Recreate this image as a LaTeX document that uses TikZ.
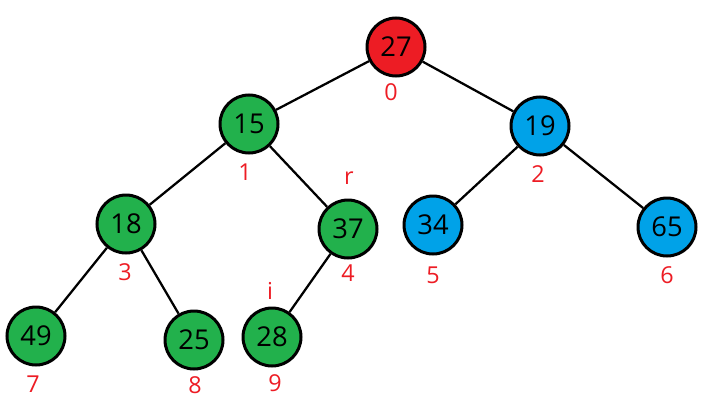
\documentclass[tikz,border=0pt]{standalone}
\usepackage{fontspec}
\setmainfont{Open Sans}
\definecolor{nred}{HTML}{ED1C24}
\definecolor{ngreen}{HTML}{22B14C}
\definecolor{nblue}{HTML}{00A2E8}
\definecolor{lred}{HTML}{ED1C24}
\begin{document}
\begin{tikzpicture}[x=0.75pt,y=-0.75pt,
  heapnode/.style={circle,draw=black,line width=2.25pt,minimum size=43.5pt,inner sep=0pt,font=\fontsize{20.5}{21}\selectfont},
  rednode/.style={heapnode,fill=nred},
  greennode/.style={heapnode,fill=ngreen},
  bluenode/.style={heapnode,fill=nblue},
  idx/.style={text=lred,inner sep=0pt,font=\fontsize{17.5}{18}\selectfont},
  edge/.style={line width=1.7pt,black}]
\useasboundingbox (0,0) rectangle (717,407);
\node[rednode] (n0) at (396,47) {27};
\node[greennode] (n1) at (249,124) {15};
\node[bluenode] (n2) at (540,126) {19};
\node[greennode] (n3) at (126,224) {18};
\node[greennode] (n4) at (348,229) {37};
\node[bluenode] (n5) at (433,225) {34};
\node[bluenode] (n6) at (667,227) {65};
\node[greennode] (n7) at (36,336) {49};
\node[greennode] (n8) at (194,340) {25};
\node[greennode] (n9) at (272,337) {28};
\draw[edge] (n0) -- (n1);
\draw[edge] (n0) -- (n2);
\draw[edge] (n1) -- (n3);
\draw[edge] (n1) -- (n4);
\draw[edge] (n2) -- (n5);
\draw[edge] (n2) -- (n6);
\draw[edge] (n3) -- (n7);
\draw[edge] (n3) -- (n8);
\draw[edge] (n4) -- (n9);
\node[idx] (l0) at (391,92) {0};
\node[idx] (l1) at (245,172) {1};
\node[idx] (l2) at (538,174) {2};
\node[idx] (l3) at (125,272) {3};
\node[idx] (l4) at (348,273) {4};
\node[idx] (l5) at (433,275) {5};
\node[idx] (l6) at (667,275) {6};
\node[idx] (l7) at (33,384) {7};
\node[idx] (l8) at (195,385) {8};
\node[idx] (l9) at (275,383) {9};
\node[idx] (lr) at (349,178) {r};
\node[idx] (li) at (270,291) {i};
\end{tikzpicture}
\end{document}
